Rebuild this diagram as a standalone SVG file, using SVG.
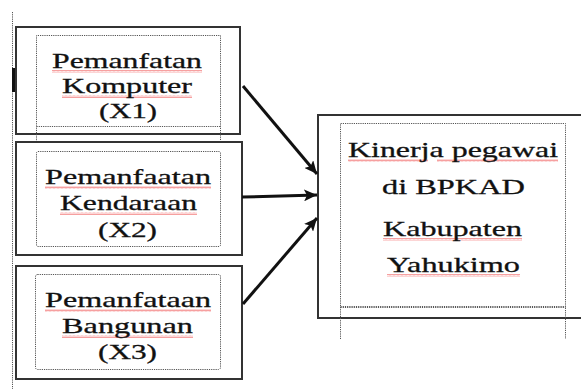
<svg xmlns="http://www.w3.org/2000/svg" width="581" height="389" viewBox="0 0 581 389">
<defs>
<style>
.outer{fill:#fff;stroke:#333;stroke-width:2}
.inner{fill:none;stroke:#555;stroke-width:1;stroke-dasharray:1.2 1}
.dot{fill:none;stroke:#555;stroke-width:1;stroke-dasharray:1.2 1}
.t{font-family:'Liberation Serif','Times New Roman',serif;font-size:22px;fill:#111;stroke:#111;stroke-width:0.3;text-anchor:middle}
.conn{stroke:#111;stroke-width:3;fill:none;marker-end:url(#ah)}
.wv{fill:url(#wave)}
</style>
<marker id="ah" markerUnits="userSpaceOnUse" markerWidth="14" markerHeight="12" refX="13" refY="6" orient="auto">
<path d="M0,0 L13,6 L0,12 L3,6 Z" fill="#111"/>
</marker>
<pattern id="wave" patternUnits="userSpaceOnUse" width="4" height="3">
<polyline points="0,2.5 1,0.5 2,2.5 3,0.5 4,2.5" fill="none" stroke="#f06060" stroke-width="0.6"/>
</pattern>
</defs>
<rect width="581" height="389" fill="#fff"/>
<line class="dot" x1="12.5" y1="12" x2="12.5" y2="389"/>
<rect x="12" y="68" width="4" height="24" fill="#111"/>

<g id="node-x1">
<rect class="outer" x="16" y="27" width="224" height="107"/>
<path class="inner" d="M36.5,142 V35.5 H220.5 V142 M36.5,126.5 H220.5"/>
<rect class="wv" x="52" y="70" width="150" height="3"/>
<rect class="wv" x="62" y="95" width="130" height="3"/>
<text class="t" x="127" y="68" textLength="150" lengthAdjust="spacingAndGlyphs">Pemanfatan</text>
<text class="t" x="127" y="93" textLength="130" lengthAdjust="spacingAndGlyphs">Komputer</text>
<text class="t" x="128" y="118" textLength="58" lengthAdjust="spacingAndGlyphs">(X1)</text>
</g>

<g id="node-x2">
<rect class="outer" x="16" y="142" width="226" height="113"/>
<rect class="inner" x="36.5" y="151.5" width="184" height="95" rx="1.5"/>
<rect class="wv" x="45" y="186" width="166" height="3"/>
<rect class="wv" x="60" y="212" width="137" height="3"/>
<text class="t" x="128" y="184" textLength="166" lengthAdjust="spacingAndGlyphs">Pemanfaatan</text>
<text class="t" x="128.5" y="210" textLength="137" lengthAdjust="spacingAndGlyphs">Kendaraan</text>
<text class="t" x="127.5" y="237" textLength="59" lengthAdjust="spacingAndGlyphs">(X2)</text>
</g>

<g id="node-x3">
<rect class="outer" x="16" y="266" width="226" height="113"/>
<rect class="inner" x="35.5" y="274.5" width="185" height="95" rx="2"/>
<rect class="wv" x="45" y="309" width="166" height="3"/>
<rect class="wv" x="62" y="335" width="131" height="3"/>
<text class="t" x="128" y="307" textLength="166" lengthAdjust="spacingAndGlyphs">Pemanfataan</text>
<text class="t" x="127.5" y="333" textLength="131" lengthAdjust="spacingAndGlyphs">Bangunan</text>
<text class="t" x="127.5" y="359" textLength="59" lengthAdjust="spacingAndGlyphs">(X3)</text>
</g>

<g id="node-y">
<rect class="outer" x="318" y="115" width="270" height="203"/>
<path class="inner" d="M340.5,339 V123.5 H565.5 V339 M340.5,307.5 H565.5"/>
<path class="inner" d="M340.5,306.5 H565.5"/>
<rect class="wv" x="348" y="159" width="80" height="3"/>
<rect class="wv" x="437" y="159" width="121" height="3"/>
<rect class="wv" x="383" y="238" width="139" height="3"/>
<rect class="wv" x="387" y="274" width="133" height="3"/>
<text class="t" x="453" y="157" textLength="210" lengthAdjust="spacingAndGlyphs">Kinerja pegawai</text>
<text class="t" x="453.5" y="194" textLength="143" lengthAdjust="spacingAndGlyphs">di BPKAD</text>
<text class="t" x="452.5" y="236" textLength="139" lengthAdjust="spacingAndGlyphs">Kabupaten</text>
<text class="t" x="453.5" y="272" textLength="133" lengthAdjust="spacingAndGlyphs">Yahukimo</text>
</g>

<g id="connectors">
<line class="conn" x1="243" y1="86" x2="317" y2="174"/>
<line class="conn" x1="242" y1="197" x2="317" y2="195"/>
<line class="conn" x1="243" y1="304" x2="317" y2="218"/>
</g>
</svg>
